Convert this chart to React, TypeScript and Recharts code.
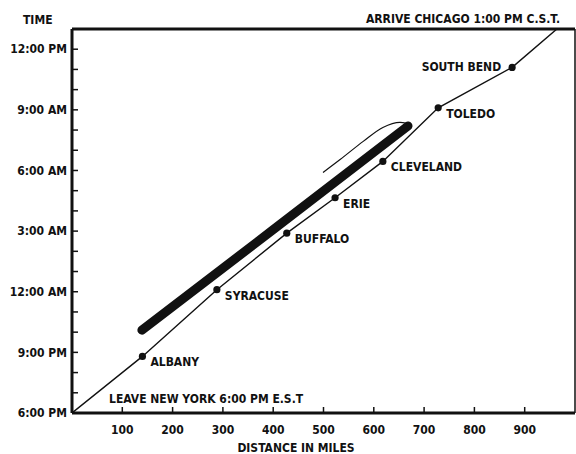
import React from 'react'
import { ComposedChart, Line, XAxis, YAxis, ReferenceLine, LabelList } from 'recharts'

// train route: miles from New York vs hours after 6:00 PM
const routeMiles = [0, 140, 288, 427, 523, 618, 728, 875, 964]
const routeHours = [0, 2.8, 6.1, 8.9, 10.65, 12.45, 15.1, 17.1, 19]
const stationNames = ['', 'ALBANY', 'SYRACUSE', 'BUFFALO', 'ERIE', 'CLEVELAND', 'TOLEDO', 'SOUTH BEND', '']

// heavy marked band above the route
const bandMiles = [139, 400, 668]
const bandHours = [4.1, 9.07, 14.2]

// thin hand stroke over the band
const strokeMiles = [499, 533, 579, 618, 652, 666]
const strokeHours = [11.9, 12.54, 13.44, 14.13, 14.38, 14.33]

const xTicks = [100, 200, 300, 400, 500, 600, 700, 800, 900]
const yTicks = [0, 1, 2, 3, 4, 5, 6, 7, 8, 9, 10, 11, 12, 13, 14, 15, 16, 17, 18]
const yTickLabels = ['6:00 PM', '9:00 PM', '12:00 AM', '3:00 AM', '6:00 AM', '9:00 AM', '12:00 PM']

const route = routeMiles.map((m, i) => ({ miles: m, hours: routeHours[i], name: stationNames[i] }))
const band = bandMiles.map((m, i) => ({ miles: m, hours: bandHours[i] }))
const handStroke = strokeMiles.map((m, i) => ({ miles: m, hours: strokeHours[i] }))

const FONT = '"DejaVu Sans Condensed", "DejaVu Sans", sans-serif'
const tickStyle = { fontFamily: FONT, fontSize: 12, fontWeight: 'bold', fill: '#111' }

const StationDot = (props: any) => {
  const { cx, cy, payload } = props
  if (!payload || !payload.name) return null
  return <circle cx={cx} cy={cy} r={3.6} fill="#111" />
}

const StationLabel = (props: any) => {
  const { x, y, value } = props
  if (!value) return null
  const left = value === 'SOUTH BEND'
  return (
    <text
      x={left ? x - 11 : x + 8}
      y={left ? y + 4 : y + 10}
      textAnchor={left ? 'end' : 'start'}
      style={{ fontFamily: FONT, fontSize: 12, fontWeight: 'bold' }}
      fill="#111"
    >
      {value}
    </text>
  )
}

export default function App() {
  return (
    <div style={{ position: 'absolute', left: 0, top: 0, width: 576, height: 454, background: '#fff' }}>
      <ComposedChart width={576} height={454} margin={{ top: 29, right: 1, bottom: 0, left: 0 }}>
        <XAxis
          type="number"
          dataKey="miles"
          domain={[0, 1000]}
          ticks={xTicks}
          allowDataOverflow
          height={41}
          tickSize={-6}
          tickMargin={18}
          tick={tickStyle}
          tickLine={{ stroke: '#111', strokeWidth: 1.5 }}
          axisLine={{ stroke: '#111', strokeWidth: 3 }}
        />
        <YAxis
          type="number"
          dataKey="hours"
          domain={[0, 19]}
          ticks={yTicks}
          allowDataOverflow
          width={72}
          tickSize={-6}
          tickMargin={11}
          tick={tickStyle}
          tickFormatter={(v: number) => (v % 3 === 0 ? yTickLabels[v / 3] : '')}
          tickLine={{ stroke: '#111', strokeWidth: 1.5 }}
          axisLine={{ stroke: '#111', strokeWidth: 3 }}
        />
        <ReferenceLine y={19} stroke="#111" strokeWidth={3} />
        <ReferenceLine x={1000} stroke="#111" strokeWidth={1.5} />
        <Line
          data={band}
          dataKey="hours"
          stroke="#111"
          strokeWidth={9}
          strokeLinecap="round"
          dot={false}
          isAnimationActive={false}
        />
        <Line
          data={handStroke}
          dataKey="hours"
          type="monotone"
          stroke="#111"
          strokeWidth={1.2}
          dot={false}
          isAnimationActive={false}
        />
        <Line
          data={route}
          dataKey="hours"
          stroke="#111"
          strokeWidth={1.4}
          dot={<StationDot />}
          isAnimationActive={false}
        >
          <LabelList dataKey="name" content={<StationLabel />} />
        </Line>
      </ComposedChart>
      <svg
        width={576}
        height={454}
        style={{ position: 'absolute', left: 0, top: 0, pointerEvents: 'none' }}
      >
        <g style={{ fontFamily: FONT, fontSize: 12, fontWeight: 'bold' }} fill="#111">
          <text x={23} y={24}>TIME</text>
          <text x={560} y={23} textAnchor="end">ARRIVE CHICAGO 1:00 PM C.S.T.</text>
          <text x={109} y={403}>LEAVE NEW YORK 6:00 PM E.S.T</text>
          <text x={296} y={452} textAnchor="middle">DISTANCE IN MILES</text>
        </g>
      </svg>
    </div>
  )
}
